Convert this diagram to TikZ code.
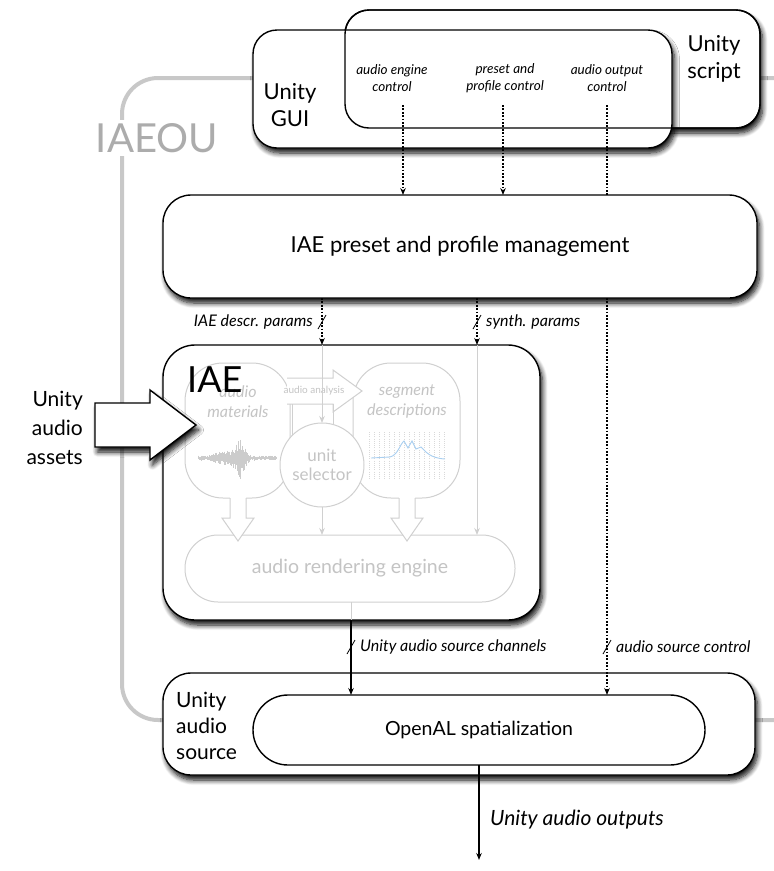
\documentclass[tikz,border=0pt]{standalone}
\usepackage{fontspec}
\setmainfont{Lato}
\usetikzlibrary{arrows.meta,shadows.blur,calc}
\definecolor{framec}{HTML}{C8C8C8}
\definecolor{ghost}{HTML}{D0D0D0}
\definecolor{ghosttext}{HTML}{C4C4C4}
\definecolor{curvec}{HTML}{A9CFF0}
\tikzset{
  shad/.style={blur shadow={shadow xshift=2.5pt, shadow yshift=-5pt, shadow blur radius=5pt, shadow blur steps=8, shadow opacity=95}},
  bbox/.style={draw=black, line width=1.4pt, fill=white, outer sep=0pt, inner sep=0pt, rounded corners=#1, shad},
  gbox/.style={draw=ghost, line width=1pt, fill=white, outer sep=0pt, inner sep=0pt, rounded corners=#1, text=ghosttext},
  arr/.style={-{Stealth[length=7pt,width=5.5pt]}},
  dots/.style={line width=1.1pt, dash pattern=on 1.8pt off 1.6pt},
  glin/.style={draw=ghost, line width=1pt},
  sl/.style={line width=0.8pt},
  lbl/.style={font=\itshape\fontsize{16}{19}\selectfont, inner sep=2pt},
  clbl/.style={font=\itshape\fontsize{13.5}{17}\selectfont, inner sep=2pt, align=center},
  big/.style={font=\fontsize{22}{27}\selectfont, align=center, inner sep=0pt},
}
\begin{document}
\begin{tikzpicture}[x=1pt,y=-1pt]
\useasboundingbox (0,0) rectangle (774,871);
\clip (0,0) rectangle (774,871);
% IAEOU frame
\draw[framec, line width=4pt, rounded corners=36pt] (122,78) rectangle (830,720);
\node[fill=white, text=gray!65, font=\fontsize{40}{40}\selectfont, inner sep=3pt] (iaeou) at (157,138) {IAEOU};

% Unity script and GUI
\node[bbox=24pt, minimum width=415pt, minimum height=118pt] (script) at (552.5,69) {};
\node[bbox=24pt, minimum width=419pt, minimum height=118pt] (gui) at (462.5,89) {};
\draw[line width=1.4pt, rounded corners=24pt] (script.south west) rectangle (script.north east);
\node[big] (guit) at (290,105) {Unity\\GUI};
\node[big] (scriptt) at (714,59) {Unity\\script};
\node[clbl] (l1) at (392,78) {audio engine\\control};
\node[clbl] (l2) at (505,78) {preset and\\profile control};
\node[clbl] (l3) at (607,78) {audio output\\control};
\coordinate (c1) at (403,105);
\coordinate (c2) at (503,105);
\coordinate (c3) at (607,105);

% management
\node[bbox=28pt, minimum width=594pt, minimum height=103pt, font=\fontsize{22}{26}\selectfont] (mgmt) at (460,246.5) {IAE preset and profile management};

% IAE
\node[bbox=32pt, minimum width=377pt, minimum height=275pt] (iae) at (351.5,482.5) {};
\node[gbox=38pt, minimum width=105pt, minimum height=135pt] (mat) at (237.5,430.5) {};
\node[gbox=38pt, minimum width=107pt, minimum height=135pt] (seg) at (406.5,430.5) {};
\node[text=ghosttext, font=\itshape\fontsize{16}{20}\selectfont, align=center, inner sep=0pt] (matt) at (238,402) {audio\\materials};
\node[text=ghosttext, font=\itshape\fontsize{16}{20}\selectfont, align=center, inner sep=0pt] (segt) at (407,401) {segment\\descriptions};
% waveform
\pgfmathsetseed{7}
\foreach \i in {0,...,78} {
  \pgfmathsetmacro{\xx}{198+\i}
  \pgfmathsetmacro{\env}{2.5+17*exp(-((\xx-240)/6)^2)+5*exp(-((\xx-225)/12)^2)}
  \pgfmathsetmacro{\aa}{\env*(0.4+0.6*rnd)}
  \pgfmathsetmacro{\bb}{\env*(0.4+0.6*rnd)}
  \draw[gray!40, line width=1pt] (\xx,{458-\aa}) -- (\xx,{458+\bb});
}
% segment grid and curve
\foreach \i in {0,...,15} \draw[gray!30, line width=0.5pt, dash pattern=on 0.7pt off 1.5pt] ({369+5*\i},432) -- ({369+5*\i},480);
\draw[curvec, line width=0.9pt] (371,458) -- (390,457) .. controls (398,455) and (400,444) .. (404,441) -- (408,448) -- (412,441) -- (416,449) -- (421,447) .. controls (426,452) and (430,458) .. (445,459);
% audio analysis arrow
\fill[white] (287,378) -- (333,378) -- (333,370) -- (362,391) -- (333,412) -- (333,404) -- (287,404) -- cycle;
\draw[glin, line join=miter] (287,378) -- (333,378) -- (333,370) -- (362,391) -- (333,412) -- (333,404) -- (287,404);
\node[text=ghosttext, font=\fontsize{10}{12}\selectfont, inner sep=0pt] (aat) at (314,391) {audio analysis};
\draw[glin] (292,404) -- (292,440);
\draw[glin] (333,404) -- (333,432);
% unit selector
\node[draw=ghost, line width=1pt, fill=white, circle, minimum size=84pt, outer sep=0pt, inner sep=0pt, text=ghosttext, font=\fontsize{17}{19}\selectfont, align=center] (unit) at (322,465) {unit\\selector};
% rendering engine
\node[gbox=33pt, minimum width=330pt, minimum height=67pt, font=\fontsize{19.5}{22}\selectfont] (rend) at (350,568.5) {audio rendering engine};
% hollow down arrows
\fill[white] (230,494) -- (230,518) -- (222,518) -- (238,541) -- (254,518) -- (246,518) -- (246,494) -- cycle;
\draw[glin, line join=miter] (230,498) -- (230,518) -- (222,518) -- (238,541) -- (254,518) -- (246,518) -- (246,498);
\fill[white] (399,494) -- (399,518) -- (391,518) -- (407,541) -- (423,518) -- (415,518) -- (415,494) -- cycle;
\draw[glin, line join=miter] (399,498) -- (399,518) -- (391,518) -- (407,541) -- (423,518) -- (415,518) -- (415,498);
\node[font=\fontsize{36}{36}\selectfont, anchor=base west, inner sep=0pt] (iaet) at (187,392) {IAE};

% Unity audio source
\node[bbox=28pt, minimum width=592pt, minimum height=102pt] (src) at (459,724) {};
\node[font=\fontsize{21}{26}\selectfont, align=left, anchor=west, inner sep=0pt] (srct) at (176,726) {Unity\\audio\\source};
\node[draw, line width=1.4pt, fill=white, rounded corners=35pt, minimum width=452pt, minimum height=70pt, outer sep=0pt, font=\fontsize{19.5}{22}\selectfont] (openal) at (479,730) {OpenAL spatialization};

% assets arrow
\filldraw[line width=1.4pt, fill=white, line join=miter, shad] (95,403) -- (150,403) -- (150,390) -- (196,425) -- (150,460) -- (150,447) -- (95,447) -- cycle;
\node[font=\fontsize{21}{29}\selectfont, align=right, anchor=east, inner sep=0pt] (assets) at (83,428) {Unity\\audio\\assets};

% connectors
\draw[dots, arr] (c1) -- (c1 |- mgmt.north);
\draw[dots, arr] (c2) -- (c2 |- mgmt.north);
\draw[dots] (c3) -- (c3 |- mgmt.north);
\draw[dots, arr] (c3 |- mgmt.south) -- (c3 |- openal.north);
\coordinate (d) at (322,0);
\coordinate (s) at (477,0);
\coordinate (r) at (351,0);
\draw[dots, arr] (d |- mgmt.south) -- (d |- iae.north);
\draw[glin, arr] (d |- iae.north) -- (unit.north);
\draw[dots, arr] (s |- mgmt.south) -- (s |- iae.north);
\draw[glin, arr] (s |- iae.north) -- (s |- rend.north);
\draw[glin, arr] (unit.south) -- (unit.south |- rend.north);
\draw[glin] (r |- rend.south) -- (r |- iae.south);
\draw[line width=1.1pt, arr] (r |- iae.south) -- (r |- openal.north);
\coordinate (out) at (479,860);
\draw[line width=1.1pt, arr] (openal.south) -- (out);

% slashes and labels
\draw[sl] (318,329) -- (326,315);
\draw[sl] (473,329) -- (481,315);
\draw[sl] (347,654) -- (355,640);
\draw[sl] (603,654) -- (611,640);
\node[lbl, anchor=east] (lp1) at (315,322) {IAE descr. params};
\node[lbl, anchor=west] (lp2) at (484,322) {synth. params};
\node[lbl, anchor=west] (lp3) at (358,647) {Unity audio source channels};
\node[lbl, anchor=west] (lp4) at (614,647) {audio source control};
\node[font=\itshape\fontsize{21}{24}\selectfont, anchor=west, inner sep=0pt] (outt) at (490,820) {Unity audio outputs};
\end{tikzpicture}
\end{document}
